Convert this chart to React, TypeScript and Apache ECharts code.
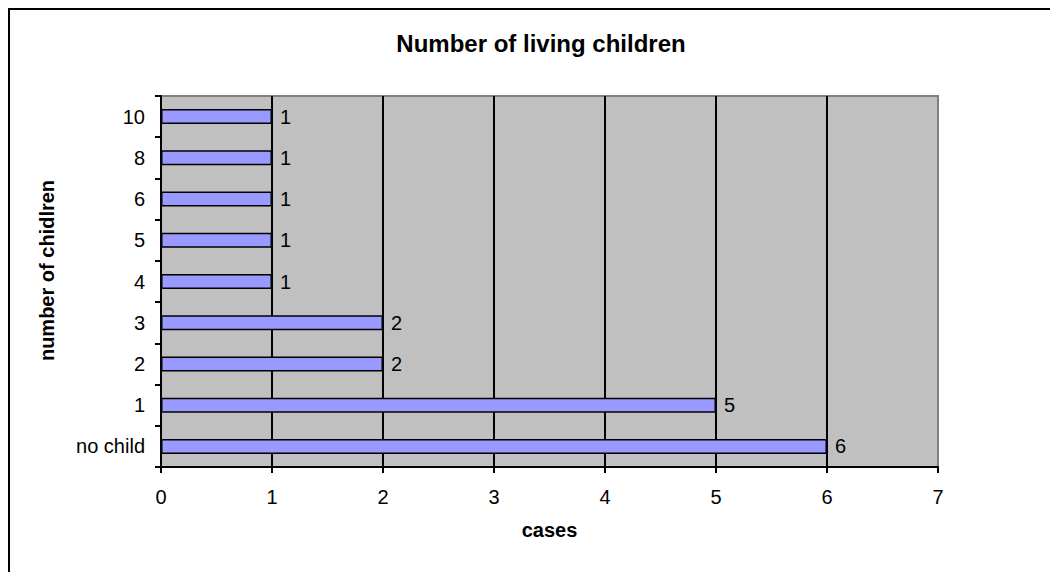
import React, { useEffect, useRef } from "react";
import * as echarts from "echarts";

// Number of living children per respondent, bottom to top
const categories = ["no child", "1", "2", "3", "4", "5", "6", "8", "10"];
const cases = [6, 5, 2, 2, 1, 1, 1, 1, 1];
const xTicks = { min: 0, max: 7, interval: 1 };

const FONT = "Arial, 'Liberation Sans', sans-serif";

export default function App() {
  const ref = useRef<HTMLDivElement>(null);

  useEffect(() => {
    if (!ref.current) return;
    const chart = echarts.init(ref.current, null, { renderer: "svg" });
    chart.setOption({
      animation: false,
      backgroundColor: "#ffffff",
      textStyle: { fontFamily: FONT },
      title: {
        text: "Number of living children",
        left: 536,
        top: 26,
        textAlign: "center",
        textStyle: { fontSize: 24, fontWeight: "bold", color: "#000", fontFamily: FONT },
      },
      graphic: [
        {
          type: "rect",
          shape: { x: 9, y: 9, width: 1100, height: 620 },
          style: { fill: "none", stroke: "#000", lineWidth: 2 },
          silent: true,
        },
      ],
      grid: {
        left: 161,
        right: 112,
        top: 96,
        bottom: 105,
        show: true,
        backgroundColor: "#c0c0c0",
        borderColor: "#808080",
        borderWidth: 2,
      },
      xAxis: {
        type: "value",
        min: xTicks.min,
        max: xTicks.max,
        interval: xTicks.interval,
        name: "cases",
        nameLocation: "middle",
        nameGap: 53,
        nameTextStyle: { fontSize: 20, fontWeight: "bold", color: "#000", fontFamily: FONT },
        axisLine: { show: true, lineStyle: { color: "#000", width: 2 } },
        axisTick: { show: true, length: 6, lineStyle: { color: "#000", width: 2 } },
        axisLabel: { fontSize: 20, color: "#000", margin: 20, fontFamily: FONT },
        splitLine: { show: true, showMaxLine: false, showMinLine: false, lineStyle: { color: "#000", width: 2 } },
      },
      yAxis: {
        type: "category",
        data: categories,
        name: "number of chidlren",
        nameLocation: "middle",
        nameGap: 104,
        nameTextStyle: {
          fontSize: 20,
          fontWeight: "bold",
          color: "#000",
          fontFamily: FONT,
          padding: [0, 0, 0, 22],
        },
        axisLine: { show: true, lineStyle: { color: "#000", width: 2 } },
        axisTick: { show: true, length: 6, alignWithLabel: false, lineStyle: { color: "#000", width: 2 } },
        axisLabel: { fontSize: 20, color: "#000", margin: 16, fontFamily: FONT },
        splitLine: { show: false },
      },
      series: [
        {
          type: "bar",
          data: cases,
          barWidth: 15,
          itemStyle: { color: "#9999ff", borderColor: "#000", borderWidth: 1.5 },
          label: {
            show: true,
            position: "right",
            distance: 8,
            fontSize: 20,
            color: "#000",
            fontFamily: FONT,
          },
        },
      ],
    });
    return () => chart.dispose();
  }, []);

  return (
    <div
      ref={ref}
      style={{ position: "fixed", left: 0, top: 0, width: 1050, height: 572 }}
    />
  );
}
